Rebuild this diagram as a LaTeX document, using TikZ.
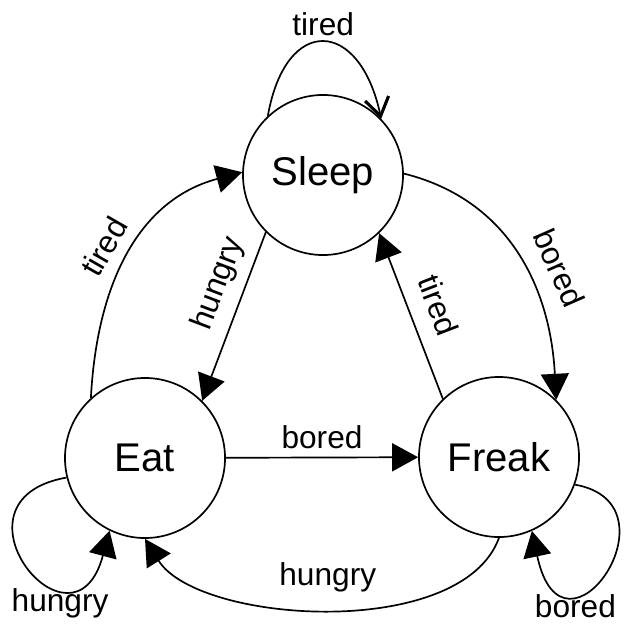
\documentclass[tikz,border=0pt]{standalone}
\usepackage{fontspec}
\setmainfont{Liberation Sans}
\usetikzlibrary{arrows.meta}

\begin{document}
\begin{tikzpicture}[x=0.025cm, y=0.025cm, line width=1.2pt,
  state/.style={circle, draw, minimum size=4cm, inner sep=0pt, font=\fontsize{28.5pt}{34pt}\selectfont},
  lbl/.style={font=\fontsize{22.5pt}{27pt}\selectfont},
  trans/.style={-{Triangle[length=6.5mm, width=7mm]}},
  selftrans/.style={-{Straight Barb[length=4.5mm, width=6mm, line width=2.2pt]}}]
\useasboundingbox [fill=white] (0, 0) rectangle (628, 626);

\node (sleep) at (323, 451) [state] {Sleep};
\node (eat) at (145, 168) [state] {Eat};
\node (freak) at (499, 169) [state] {Freak};

\draw [selftrans] (sleep.133) .. controls +(80:103) and +(102:103) .. (sleep.44) node [lbl, above, pos=0.5] {tired};
\draw [trans] (eat.132) .. controls +(87:110) and +(195:110) .. (sleep.178) node [lbl, sloped, above=6pt, pos=0.48] {tired};
\draw [trans] (sleep.225) -- (eat.45) node [lbl, sloped, above=4pt, pos=0.36] {hungry};
\draw [trans] (sleep.1) .. controls +(-14:110) and +(93:110) .. (freak.45) node [lbl, sloped, above=10pt, pos=0.6] {bored};
\draw [trans] (freak.134) -- (sleep.-46) node [lbl, sloped, above=9pt, pos=0.5] {tired};
\draw [trans] (eat) -- (freak) node [lbl, above=2pt, pos=0.5] {bored};
\draw [trans] (freak.270) .. controls +(-110:110) and +(-58:100) .. (eat.270) node [lbl, above=8pt, pos=0.5] {hungry};
\draw [trans] (eat.194) .. controls +(190:130) and +(-105:140) .. (eat.244) node [lbl, below, pos=0.7] {hungry};
\draw [trans] (freak.-20) .. controls +(-10:110) and +(-78:150) .. (freak.-66) node [lbl, below, pos=0.7] {bored};
\end{tikzpicture}
\end{document}
